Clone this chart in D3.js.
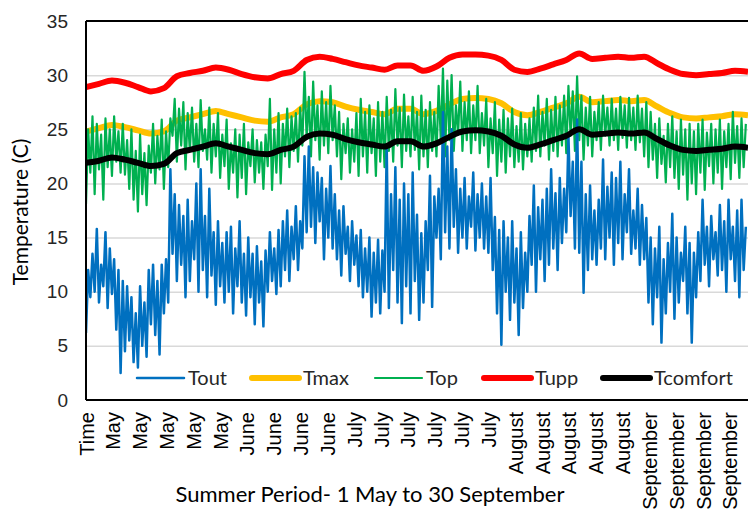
<!DOCTYPE html>
<html>
<head>
<meta charset="utf-8">
<script src="https://cdn.jsdelivr.net/npm/d3@7"></script>
<style>
  body { margin: 0; background: #fff; }
  svg { font-family: Lato, "Open Sans", sans-serif; }
</style>
</head>
<body>
<div class="graph"></div>
<script>
// category labels shown under the x axis (one every ~6.2 days)
const tickLabels = ['Time',
  'May', 'May', 'May', 'May', 'May',
  'June', 'June', 'June', 'June',
  'July', 'July', 'July', 'July', 'July', 'July',
  'August', 'August', 'August', 'August', 'August',
  'September', 'September', 'September', 'September'];
const tickStep = 6.2;
const yTicks = [0, 5, 10, 15, 20, 25, 30, 35];

// smooth series, one value every 3 days (day 0 .. 153)
const smoothStep = 3;
const tupp = [28.9, 29.2, 29.5, 29.3, 28.9, 28.5, 28.8, 29.9, 30.2, 30.4, 30.7, 30.5, 30.1,
  29.8, 29.7, 30.1, 30.4, 31.4, 31.7, 31.5, 31.2, 30.9, 30.7, 30.5, 30.9, 30.9, 30.4,
  30.8, 31.6, 31.9, 31.9, 31.8, 31.4, 30.5, 30.3, 30.6, 31.0, 31.4, 32.0, 31.5, 31.6,
  31.7, 31.6, 31.7, 31.1, 30.5, 30.1, 30.0, 30.1, 30.2, 30.4, 30.3];
const tmax = [24.8, 25.1, 25.4, 25.2, 24.9, 24.6, 24.8, 25.8, 26.1, 26.4, 26.7, 26.4, 26.1,
  25.8, 25.7, 26.1, 26.4, 27.3, 27.6, 27.5, 27.1, 26.8, 26.6, 26.4, 26.9, 26.9, 26.4,
  26.7, 27.3, 27.8, 27.9, 27.8, 27.4, 26.6, 26.3, 26.6, 27.0, 27.4, 28.0, 27.5, 27.6,
  27.7, 27.6, 27.7, 27.1, 26.5, 26.1, 26.0, 26.1, 26.2, 26.4, 26.3];
const tcomfort = [21.9, 22.1, 22.4, 22.2, 21.9, 21.6, 21.8, 22.8, 23.1, 23.4, 23.7, 23.4, 23.1,
  22.8, 22.7, 23.1, 23.4, 24.3, 24.6, 24.5, 24.1, 23.8, 23.6, 23.4, 23.9, 23.9, 23.4,
  23.7, 24.3, 24.8, 24.9, 24.8, 24.4, 23.6, 23.3, 23.6, 24.0, 24.4, 25.0, 24.5, 24.6,
  24.7, 24.6, 24.7, 24.1, 23.5, 23.1, 23.0, 23.1, 23.2, 23.4, 23.3];

// daily night / afternoon readings (two values per day)
const halfDay = 0.5;
const tout = [
  6.2, 12.0, 9.5, 13.5, 10.0, 15.8, 9.0, 12.5, 10.5, 15.5, 8.5, 14.0, 9.8, 13.0, 6.5, 12.0,
  2.5, 11.0, 4.5, 10.5, 5.5, 9.5, 3.5, 8.0, 3.0, 10.5, 5.0, 9.0, 4.0, 12.0, 7.0, 12.5,
  6.0, 11.0, 4.2, 12.5, 8.0, 13.0, 9.0, 21.3, 13.5, 19.0, 11.0, 18.0, 12.5, 17.0, 9.5, 18.5,
  11.0, 16.5, 13.0, 20.0, 10.0, 21.3, 12.0, 17.0, 9.5, 19.5, 11.5, 15.5, 8.8, 16.5, 10.5, 14.5,
  9.0, 15.5, 10.0, 16.0, 8.0, 14.0, 10.5, 16.5, 9.0, 13.5, 7.8, 15.0, 9.5, 13.5, 7.0, 14.2,
  9.0, 12.8, 6.8, 13.8, 10.0, 15.5, 11.0, 14.0, 9.8, 15.7, 10.5, 16.5, 12.0, 17.5, 11.0, 16.0,
  13.0, 17.9, 12.0, 16.5, 14.0, 22.5, 15.5, 23.4, 16.0, 21.5, 14.5, 21.0, 16.5, 20.5, 13.0, 19.5,
  15.0, 21.6, 14.0, 19.0, 13.0, 17.5, 11.5, 17.9, 13.5, 16.0, 11.0, 16.5, 12.5, 15.2, 10.5, 15.7,
  9.5, 14.0, 10.0, 15.0, 7.7, 13.6, 9.0, 14.8, 8.0, 13.8, 10.0, 23.4, 8.5, 19.0, 12.0, 21.5,
  9.0, 18.5, 7.1, 20.0, 10.5, 19.0, 8.0, 21.0, 11.0, 17.1, 7.4, 15.4, 9.0, 16.5, 12.0, 20.7,
  8.6, 18.8, 15.0, 19.5, 13.0, 26.6, 15.5, 23.4, 14.0, 25.0, 16.0, 21.3, 13.6, 19.5, 15.0, 20.5,
  14.0, 18.8, 16.0, 21.0, 13.8, 19.0, 15.0, 20.0, 14.0, 18.8, 13.6, 20.5, 12.0, 16.9, 8.0, 15.7,
  5.1, 16.5, 10.0, 15.0, 7.4, 16.5, 9.0, 14.0, 6.0, 15.5, 8.5, 13.6, 10.0, 17.0, 12.5, 19.8,
  10.0, 17.8, 13.0, 18.5, 11.0, 19.5, 12.5, 21.3, 14.0, 19.1, 12.0, 20.5, 14.5, 19.5, 15.5, 24.4,
  17.0, 22.0, 14.0, 25.9, 13.6, 22.0, 9.9, 19.0, 12.0, 19.8, 13.0, 17.5, 12.5, 18.5, 14.0, 22.2,
  13.0, 19.7, 15.0, 21.0, 12.5, 20.5, 14.5, 22.0, 13.0, 19.0, 15.5, 21.3, 13.5, 17.5, 14.0, 19.5,
  12.5, 18.0, 13.0, 16.8, 9.0, 15.0, 7.0, 14.0, 9.5, 16.0, 5.3, 13.0, 8.0, 14.5, 10.0, 17.2,
  7.5, 15.0, 9.0, 13.6, 11.0, 16.0, 8.0, 14.5, 5.3, 13.6, 9.5, 15.5, 11.0, 18.5, 12.5, 16.0,
  10.5, 17.0, 13.0, 15.5, 11.5, 18.0, 12.0, 16.5, 10.0, 18.5, 13.0, 16.0, 11.0, 17.5, 9.5, 18.5,
  12.0, 16.0];
const top_ = [
  18.1, 25.0, 21.0, 26.2, 19.0, 25.5, 21.3, 24.5, 18.5, 26.0, 21.5, 25.0, 20.7, 26.2, 22.0, 24.8,
  21.0, 25.5, 20.8, 24.0, 19.5, 25.0, 18.5, 23.0, 17.4, 24.5, 19.0, 22.8, 18.0, 23.5, 21.0, 25.5,
  20.0, 24.4, 21.3, 25.9, 19.5, 24.8, 21.5, 26.0, 24.4, 27.8, 22.0, 26.9, 23.5, 27.5, 21.3, 26.5,
  23.0, 27.0, 22.0, 25.5, 21.5, 27.7, 23.0, 25.0, 22.2, 27.0, 21.0, 25.5, 22.5, 26.5, 20.5, 24.5,
  21.6, 25.9, 19.5, 23.7, 21.0, 25.0, 18.7, 24.5, 20.5, 25.5, 19.0, 23.8, 21.6, 25.0, 20.1, 24.0,
  21.0, 23.8, 19.5, 24.5, 21.6, 27.8, 19.4, 25.0, 21.0, 26.5, 20.0, 25.5, 22.5, 26.9, 21.5, 26.2,
  23.0, 26.5, 22.0, 27.0, 23.5, 30.3, 24.1, 28.0, 22.5, 29.4, 24.0, 27.2, 22.2, 28.5, 23.5, 27.5,
  22.8, 29.0, 24.0, 27.2, 22.5, 26.6, 20.4, 25.5, 22.8, 26.0, 21.0, 25.0, 22.0, 26.5, 20.7, 27.8,
  22.5, 26.6, 21.0, 27.2, 22.8, 26.0, 20.7, 27.5, 22.0, 26.6, 21.5, 28.0, 23.0, 26.8, 22.0, 28.7,
  23.5, 27.0, 21.5, 28.2, 23.0, 26.2, 22.5, 28.0, 23.1, 26.6, 21.3, 28.1, 22.5, 26.8, 21.5, 27.5,
  23.0, 26.6, 22.5, 29.0, 24.0, 30.6, 22.5, 29.5, 24.0, 30.0, 23.0, 27.2, 24.5, 29.4, 23.0, 27.5,
  24.0, 28.5, 22.8, 27.2, 24.0, 29.0, 22.8, 26.5, 23.5, 27.8, 21.5, 26.0, 22.8, 27.5, 20.7, 25.9,
  22.0, 26.8, 21.0, 26.0, 22.5, 26.9, 21.5, 25.3, 22.0, 26.5, 21.3, 25.5, 22.5, 26.0, 22.0, 27.0,
  23.0, 28.1, 22.5, 26.6, 23.5, 27.8, 22.2, 26.8, 23.0, 28.0, 22.5, 27.2, 23.5, 28.1, 22.8, 29.0,
  24.4, 28.5, 23.0, 29.9, 24.0, 28.1, 22.2, 27.0, 23.5, 28.0, 22.5, 26.6, 24.0, 27.5, 23.1, 28.1,
  24.4, 27.0, 23.5, 27.8, 24.0, 26.9, 23.1, 28.0, 24.2, 27.2, 23.3, 27.9, 24.0, 27.0, 23.1, 28.1,
  23.8, 26.9, 22.5, 27.5, 21.5, 26.6, 22.2, 25.5, 20.5, 26.0, 21.8, 24.4, 20.1, 25.5, 21.5, 26.2,
  20.5, 24.8, 19.5, 25.9, 20.8, 25.0, 18.5, 25.5, 20.0, 24.8, 19.0, 25.5, 21.0, 25.9, 19.4, 24.7,
  21.6, 25.5, 20.0, 25.0, 21.0, 25.9, 19.5, 24.8, 21.5, 25.5, 20.4, 26.6, 21.9, 25.3, 20.5, 26.0,
  21.5, 25.5];

const margin = { top: 21, left: 86, bottom: 109, right: 0 };
const width = 748 - margin.left - margin.right;
const height = 509 - margin.top - margin.bottom;

const xScale = d3.scaleLinear().domain([0, 153]).range([0, width]);
const yScale = d3.scaleLinear().domain([0, 35]).range([height, 0]);

const svg = d3.select('.graph')
  .append('svg')
  .attr('width', 748)
  .attr('height', 509);

const g = svg.append('g')
  .attr('transform', `translate(${margin.left},${margin.top})`);

// gridlines
g.append('g')
  .attr('class', 'grid')
  .call(d3.axisLeft(yScale).tickValues(yTicks.slice(1, -1)).tickSize(-width).tickFormat(''))
  .call(s => s.select('.domain').remove())
  .selectAll('line')
  .attr('stroke', '#d9d9d9')
  .attr('stroke-width', 1.5);

// y axis labels
g.append('g')
  .attr('class', 'y-axis')
  .call(d3.axisLeft(yScale).tickValues(yTicks).tickSize(0).tickPadding(18))
  .call(s => s.select('.domain').remove())
  .selectAll('text')
  .attr('font-size', 19)
  .attr('fill', '#262626');

// x axis labels, rotated
g.append('g')
  .attr('class', 'x-axis')
  .attr('transform', `translate(0,${height})`)
  .call(d3.axisBottom(xScale)
    .tickValues(tickLabels.map((d, i) => i * tickStep))
    .tickFormat((d, i) => tickLabels[i])
    .tickSize(0))
  .call(s => s.select('.domain').remove())
  .selectAll('text')
  .attr('transform', 'rotate(-90)')
  .attr('text-anchor', 'end')
  .attr('x', -12)
  .attr('y', 0)
  .attr('dy', '0.35em')
  .attr('font-size', 20)
  .attr('fill', '#000');

const clip = svg.append('clipPath').attr('id', 'plot-clip')
  .append('rect').attr('width', width).attr('height', height);

const smoothLine = d3.line()
  .x((d, i) => xScale(i * smoothStep))
  .y(d => yScale(d))
  .curve(d3.curveMonotoneX);

const noisyLine = d3.line()
  .x((d, i) => xScale(i * halfDay))
  .y(d => yScale(d));

const plot = g.append('g').attr('clip-path', 'url(#plot-clip)');

plot.append('path').datum(tmax)
  .attr('d', smoothLine).attr('fill', 'none')
  .attr('stroke', '#ffc000').attr('stroke-width', 6).attr('stroke-linejoin', 'round');

plot.append('path').datum(top_)
  .attr('d', noisyLine).attr('fill', 'none')
  .attr('stroke', '#00b050').attr('stroke-width', 2.2).attr('stroke-linejoin', 'round');

plot.append('path').datum(tout)
  .attr('d', noisyLine).attr('fill', 'none')
  .attr('stroke', '#0070c0').attr('stroke-width', 2.5).attr('stroke-linejoin', 'round');

plot.append('path').datum(tupp)
  .attr('d', smoothLine).attr('fill', 'none')
  .attr('stroke', '#ff0000').attr('stroke-width', 6).attr('stroke-linejoin', 'round');

plot.append('path').datum(tcomfort)
  .attr('d', smoothLine).attr('fill', 'none')
  .attr('stroke', '#000').attr('stroke-width', 6).attr('stroke-linejoin', 'round');

// frame: left axis, bottom axis and top border
g.append('line').attr('x1', 0).attr('x2', 0).attr('y1', 0).attr('y2', height)
  .attr('stroke', '#000').attr('stroke-width', 2);
g.append('line').attr('x1', 0).attr('x2', width).attr('y1', height).attr('y2', height)
  .attr('stroke', '#000').attr('stroke-width', 2);
g.append('line').attr('x1', 0).attr('x2', width).attr('y1', 0).attr('y2', 0)
  .attr('stroke', '#000').attr('stroke-width', 2);

// legend
const legendNames = ['Tout', 'Tmax', 'Top', 'Tupp', 'Tcomfort'];
const legendColors = ['#0070c0', '#ffc000', '#00b050', '#ff0000', '#000'];
const legendWidths = [2.5, 6, 2.2, 6, 6];
const legendX = [137, 252, 375, 484, 603];
const legendY = 378;

const legend = svg.append('g').attr('class', 'legend');
legendNames.forEach((name, i) => {
  legend.append('line')
    .attr('x1', legendX[i]).attr('x2', legendX[i] + 47)
    .attr('y1', legendY).attr('y2', legendY)
    .attr('stroke', legendColors[i])
    .attr('stroke-width', legendWidths[i])
    .attr('stroke-linecap', 'round');
  legend.append('text')
    .attr('x', legendX[i] + 51)
    .attr('y', legendY)
    .attr('dy', '0.35em')
    .attr('font-size', 20)
    .attr('fill', '#262626')
    .text(name);
});

// axis titles
svg.append('text')
  .attr('transform', 'translate(28,212) rotate(-90)')
  .attr('text-anchor', 'middle')
  .attr('font-size', 21)
  .attr('fill', '#000')
  .text('Temperature (C)');

svg.append('text')
  .attr('x', 370)
  .attr('y', 502)
  .attr('text-anchor', 'middle')
  .attr('font-size', 22)
  .attr('fill', '#000')
  .text('Summer Period- 1 May to 30 September');
</script>
</body>
</html>
